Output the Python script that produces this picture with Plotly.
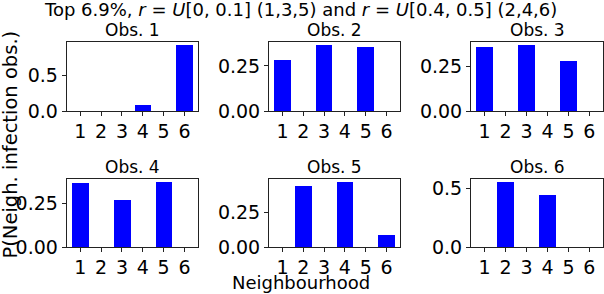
import plotly.graph_objects as go

neigh = [1, 2, 3, 4, 5, 6]
tick_labels = ["1", "2", "3", "4", "5", "6"]
obs1 = [0, 0, 0, 0.085, 0, 0.915]
obs2 = [0.282, 0, 0.365, 0, 0.353, 0]
obs3 = [0.355, 0, 0.367, 0, 0.278, 0]
obs4 = [0.365, 0, 0.266, 0, 0.369, 0]
obs5 = [0, 0.443, 0, 0.471, 0, 0.086]
obs6 = [0, 0.555, 0, 0.445, 0, 0]
series = [obs1, obs2, obs3, obs4, obs5, obs6]
titles = ["Obs. 1", "Obs. 2", "Obs. 3", "Obs. 4", "Obs. 5", "Obs. 6"]
ytick_step = [0.5, 0.25, 0.25, 0.25, 0.25, 0.5]
ytick_fmt = [".1f", ".2f", ".2f", ".2f", ".2f", ".1f"]

W = 604
H_TARGET = 294
H = 306                      # compensates the vertical squeeze seen in the rendered picture
K = H / H_TARGET
FONT = "DejaVu Sans"
col_px = [(66.7, 198.0), (269.0, 400.0), (471.0, 603.0)]
row_px = [(41.0, 110.0), (178.0, 246.0)]


def yfrac(py):
    return 1 - (py * K) / H


fig = go.Figure()
for i, (vals, title) in enumerate(zip(series, titles)):
    r, c = divmod(i, 3)
    n = i + 1
    xa = "x" if n == 1 else f"x{n}"
    ya = "y" if n == 1 else f"y{n}"
    fig.add_trace(go.Bar(x=neigh, y=vals, width=0.8, marker=dict(color="#0000ff", line=dict(width=0)),
                         xaxis=xa, yaxis=ya, showlegend=False))
    x0, x1 = col_px[c]
    y0, y1 = row_px[r]
    xd = [x0 / W, x1 / W]
    yd = [yfrac(y1), yfrac(y0)]
    common = dict(showline=True, mirror=True, linecolor="#222222", linewidth=1, ticks="outside",
                  ticklen=4, tickcolor="#222222", showgrid=False, zeroline=False,
                  tickfont=dict(family=FONT, size=19, color="black"))
    fig.update_layout(**{
        ("xaxis" if n == 1 else f"xaxis{n}"): dict(domain=xd, range=[0.35, 6.65], tickvals=neigh,
                                                   ticktext=tick_labels, anchor=ya,
                                                   ticklabelstandoff=-1, **common),
        ("yaxis" if n == 1 else f"yaxis{n}"): dict(domain=yd, range=[0, max(vals) * 1.05],
                                                   dtick=ytick_step[i], tick0=0, tickformat=ytick_fmt[i],
                                                   anchor=xa, **common),
    })
    fig.add_annotation(text=title, x=(xd[0] + xd[1]) / 2, y=yd[1], xref="paper", yref="paper",
                       xanchor="center", yanchor="bottom", yshift=0, showarrow=False,
                       font=dict(family=FONT, size=17, color="black"))

fig.add_annotation(text="Top 6.9%, <i>r</i> = <i>U</i>[0, 0.1] (1,3,5) and <i>r</i> = <i>U</i>[0.4, 0.5] (2,4,6)",
                   x=300 / W, y=1, xref="paper", yref="paper", xanchor="center", yanchor="top", yshift=4,
                   showarrow=False, font=dict(family=FONT, size=18, color="black"))
fig.add_annotation(text="Neighbourhood", x=301 / W, y=0, xref="paper", yref="paper",
                   xanchor="center", yanchor="bottom", yshift=0, showarrow=False,
                   font=dict(family=FONT, size=18, color="black"))
fig.add_annotation(text="P(Neigh. infection obs.)", x=10 / W, y=yfrac(143.5), xref="paper", yref="paper",
                   xanchor="center", yanchor="middle", textangle=-90, showarrow=False,
                   font=dict(family=FONT, size=19.5, color="black"))

fig.update_layout(width=W, height=H, margin=dict(l=0, r=0, t=0, b=0), plot_bgcolor="white",
                  paper_bgcolor="white", bargap=0)
fig.write_html("out.html", config={"displayModeBar": False},
               post_script=("document.documentElement.style.margin='0px';"
                            "document.body.style.margin='0px';document.body.style.padding='0px';"))
